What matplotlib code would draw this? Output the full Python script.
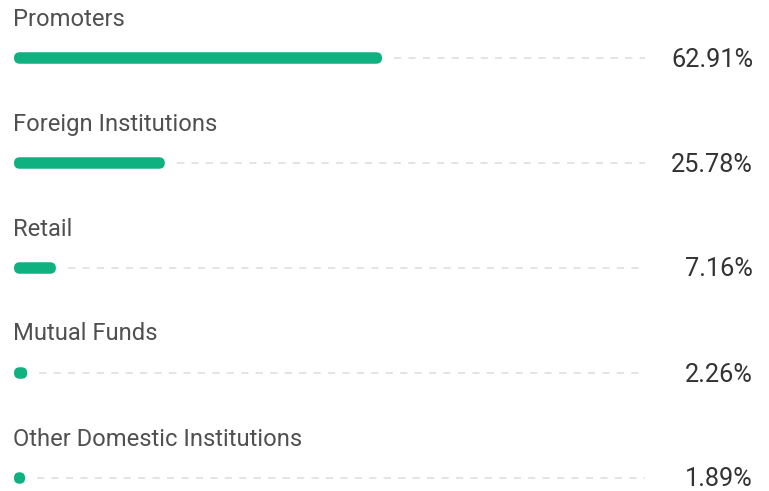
import matplotlib
matplotlib.use("Agg")
import matplotlib.pyplot as plt
from matplotlib.patches import FancyBboxPatch

categories = ["Promoters", "Foreign Institutions", "Retail", "Mutual Funds",
              "Other Domestic Institutions"]
shares = [62.91, 25.78, 7.16, 2.26, 1.89]
value_labels = ["62.91%", "25.78%", "7.16%", "2.26%", "1.89%"]

GREEN = "#10b181"
LABEL = "#505050"
VALUE = "#333333"
TRACK = "#e2e2e2"

W, H = 769, 491
fig = plt.figure(figsize=(W / 100, H / 100), dpi=100)
ax = fig.add_axes([0, 0, 1, 1])

# x in percent units, y in pixel rows (top = 0)
px_per_pct = 5.85
x0_px = 14
ax.set_xlim(-x0_px / px_per_pct, (W - x0_px) / px_per_pct)
ax.set_ylim(H, 0)
ax.axis("off")

row_gap = 105.0
bar_h = 11.5
track_end = (645 - x0_px) / px_per_pct
value_x = (753 - x0_px) / px_per_pct

for i, (name, v, lab) in enumerate(zip(categories, shares, value_labels)):
    y_label = 19 + i * row_gap
    y_bar = 58 + i * row_gap
    ax.text(-0.1, y_label, name, fontsize=17.1, color=LABEL, family="Roboto",
            va="center", ha="left")
    # dashed track to the right of the bar
    ax.plot([v + 2.0, track_end], [y_bar, y_bar], color=TRACK, lw=1.3,
            dashes=(4, 4), solid_capstyle="butt")
    # rounded bar (x in percent, y in pixels; mutation_aspect keeps corners round)
    w_px = v * px_per_pct
    r_pct = min(bar_h / 2, w_px / 2) / px_per_pct
    bar = FancyBboxPatch((0, y_bar - bar_h / 2), v, bar_h,
                         boxstyle=f"round,pad=0,rounding_size={r_pct}",
                         mutation_aspect=px_per_pct,
                         facecolor=GREEN, edgecolor="none")
    ax.add_patch(bar)
    ax.text(value_x, y_bar + 8.5, lab, fontsize=18.2, color=VALUE, family="Roboto",
            va="baseline", ha="right")

fig.savefig("out.png", dpi=100, facecolor="white")
